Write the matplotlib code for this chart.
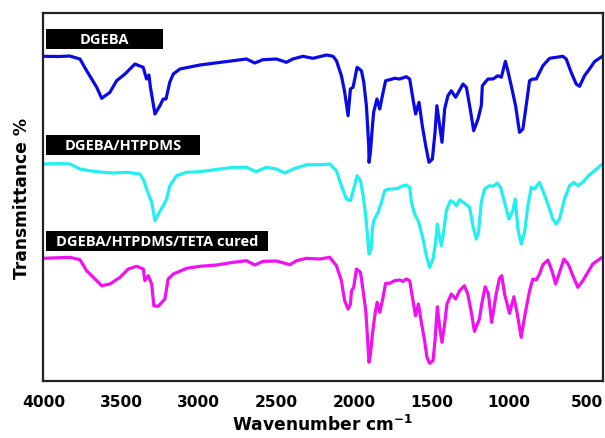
import numpy as np
import matplotlib.pyplot as plt
from matplotlib.patches import Rectangle


#------------------------------------------------------------------------
#!Datos (numero de onda cm-1, transmitancia relativa)

wn_dgeba = [4000, 3900, 3830, 3764, 3721, 3656, 3624, 3571, 3528, 3474, 3410, 3357,
            3335, 3320, 3310, 3281, 3249, 3228, 3210, 3185, 3163, 3120, 2992, 2778,
            2691, 2638, 2586, 2498, 2434, 2393, 2328, 2263, 2176, 2134, 2112, 2080,
            2059, 2037, 2022, 2005, 1979, 1951, 1936, 1919, 1904, 1902, 1893, 1880,
            1872, 1851, 1833, 1816, 1795, 1769, 1737, 1705, 1662, 1640, 1619, 1602,
            1580, 1559, 1537, 1516, 1494, 1477, 1465, 1447, 1432, 1415, 1394, 1372,
            1344, 1297, 1275, 1254, 1228, 1200, 1179, 1172, 1136, 1104, 1072, 1050,
            1024, 1008, 986, 958, 933, 911, 890, 868, 847, 825, 782, 739, 654, 632,
            600, 568, 546, 514, 482, 450, 400]
t_dgeba = [324.7, 324.5, 325.0, 322.0, 310.3, 293.7, 282.7, 288.7, 300.3, 307.0, 317.0, 313.7,
           302.0, 306.0, 293.7, 267.0, 275.3, 282.0, 282.0, 299.0, 307.0, 312.0, 316.0, 320.3,
           322.0, 318.0, 321.3, 322.0, 318.7, 322.0, 324.7, 322.7, 326.0, 324.7, 320.3, 305.3,
           289.0, 265.3, 292.0, 293.7, 313.7, 310.3, 299.0, 275.3, 235.3, 218.7, 229.0, 255.3,
           269.0, 282.0, 272.0, 285.3, 300.3, 301.3, 302.7, 302.0, 304.3, 302.0, 282.0, 267.0,
           278.7, 255.3, 235.3, 218.7, 222.0, 248.7, 275.3, 255.3, 238.7, 272.0, 285.3, 290.3,
           283.7, 297.0, 293.7, 275.3, 250.3, 262.0, 275.3, 295.3, 302.0, 302.0, 305.3, 303.7,
           319.7, 310.3, 295.3, 275.3, 248.7, 252.0, 275.3, 300.3, 302.0, 302.0, 315.3, 322.7,
           324.7, 322.0, 308.7, 297.0, 294.7, 305.3, 312.0, 319.3, 324.7]

wn_htpdms = [4000, 3900, 3828, 3764, 3700, 3656, 3551, 3463, 3378, 3352, 3335, 3302,
             3281, 3253, 3228, 3206, 3185, 3142, 3077, 2992, 2778, 2691, 2631, 2563,
             2498, 2445, 2391, 2305, 2219, 2155, 2112, 2080, 2048, 2022, 2001, 1979,
             1957, 1940, 1923, 1912, 1902, 1889, 1880, 1872, 1844, 1822, 1801, 1779,
             1747, 1715, 1694, 1662, 1640, 1629, 1608, 1586, 1576, 1554, 1533, 1512,
             1490, 1473, 1462, 1452, 1436, 1422, 1404, 1379, 1357, 1340, 1319, 1288,
             1254, 1233, 1211, 1197, 1179, 1158, 1126, 1104, 1076, 1055, 1029, 1001,
             976, 960, 943, 922, 900, 879, 857, 836, 804, 782, 750, 718, 697, 675,
             643, 611, 583, 557, 525, 488, 450, 407]
t_htpdms = [217.0, 217.5, 217.0, 212.0, 210.3, 209.3, 208.0, 208.7, 207.0, 200.3, 192.0, 179.0,
            160.3, 168.7, 175.3, 182.0, 195.3, 205.3, 208.7, 209.3, 213.7, 213.7, 209.3, 213.7,
            212.0, 208.0, 212.0, 216.3, 216.3, 217.0, 210.3, 195.3, 182.0, 180.3, 192.0, 205.3,
            200.3, 185.3, 165.3, 145.3, 127.0, 132.0, 152.0, 160.3, 168.7, 178.7, 190.3, 192.0,
            192.0, 192.7, 194.7, 196.0, 193.7, 178.7, 167.0, 160.3, 155.3, 142.0, 125.3, 113.7,
            122.0, 138.7, 157.0, 147.0, 135.3, 148.7, 170.3, 180.3, 178.7, 175.3, 181.3, 178.0,
            173.7, 155.3, 142.0, 148.7, 178.7, 192.0, 195.3, 194.7, 197.7, 193.7, 178.7, 162.0,
            170.3, 182.0, 152.0, 137.0, 148.7, 175.3, 193.7, 192.0, 198.7, 190.3, 177.0, 162.0,
            157.0, 162.0, 182.0, 195.3, 198.7, 195.3, 198.7, 205.3, 210.3, 216.0]

wn_teta = [4000, 3828, 3764, 3721, 3656, 3624, 3571, 3506, 3453, 3399, 3356, 3346,
           3324, 3302, 3288, 3260, 3217, 3196, 3163, 3077, 2992, 2884, 2777, 2691,
           2638, 2584, 2498, 2412, 2369, 2305, 2219, 2155, 2112, 2080, 2059, 2037,
           2022, 2015, 2001, 1983, 1957, 1940, 1923, 1912, 1902, 1893, 1880, 1865,
           1850, 1833, 1816, 1795, 1769, 1737, 1705, 1683, 1662, 1640, 1619, 1602,
           1584, 1565, 1544, 1529, 1512, 1490, 1477, 1462, 1447, 1432, 1415, 1400,
           1372, 1344, 1319, 1288, 1266, 1245, 1223, 1191, 1176, 1154, 1133, 1112,
           1083, 1062, 1047, 1029, 997, 969, 947, 922, 897, 868, 847, 825, 804,
           782, 750, 724, 700, 675, 647, 617, 589, 557, 525, 493, 461, 407]
t_teta = [122.7, 123.7, 121.3, 110.3, 100.3, 95.3, 97.0, 103.7, 112.0, 114.7, 112.0, 100.3,
          105.3, 97.0, 75.3, 74.7, 82.0, 102.0, 107.0, 112.7, 114.7, 116.0, 118.7, 120.3,
          116.0, 119.7, 120.0, 116.3, 120.3, 122.7, 122.0, 123.7, 115.3, 100.3, 80.3, 72.0,
          77.0, 90.3, 93.7, 112.0, 108.7, 90.3, 70.3, 43.7, 18.7, 27.0, 47.0, 65.3,
          78.7, 68.7, 80.3, 97.7, 97.7, 100.3, 101.0, 99.7, 102.0, 100.3, 80.3, 65.3,
          77.0, 58.7, 40.3, 23.7, 17.7, 20.3, 40.3, 74.3, 53.7, 38.7, 57.0, 77.0,
          87.0, 82.0, 90.3, 95.3, 87.0, 70.3, 49.7, 62.0, 77.0, 94.3, 87.0, 58.7,
          87.0, 102.7, 105.3, 87.0, 67.7, 84.3, 67.0, 43.7, 67.0, 90.3, 102.0, 101.0, 107.0,
          116.3, 121.0, 110.3, 97.0, 108.7, 122.0, 116.3, 105.3, 93.7, 100.3, 108.7, 117.0, 123.0]

nombres = ["DGEBA", "DGEBA/HTPDMS", "DGEBA/HTPDMS/TETA cured"]
colores = ["#0a0ae6", "#22f0f0", "#f010f0"]


#------------------------------------------------------------------------
#!Grafica

fig = plt.figure(figsize=(6.05, 4.39), dpi=100)
ax = fig.add_axes([0.0716, 0.1298, 0.9251, 0.8383])

ax.plot(wn_dgeba, t_dgeba, color=colores[0], lw=2.3)
ax.plot(wn_htpdms, t_htpdms, color=colores[1], lw=2.3)
ax.plot(wn_teta, t_teta, color=colores[2], lw=2.3)

ax.set_xlim(4000, 395)
ax.set_ylim(0, 368)
ax.set_xticks([4000, 3500, 3000, 2500, 2000, 1500, 1000, 500])
ax.set_yticks([])
ax.tick_params(axis="x", length=0, pad=9, labelsize=11.2)
for lab in ax.get_xticklabels():
    lab.set_fontweight("bold")
for s in ax.spines.values():
    s.set_linewidth(1.6)
    s.set_color("#222222")

ax.set_xlabel("Wavenumber cm$^{\\mathbf{-1}}$", fontsize=12.3, fontweight="bold", labelpad=4)
ax.set_ylabel("Transmittance %", fontsize=12.3, fontweight="bold", labelpad=9)

#Cajas negras con los nombres
cajas = [(0.0043, 0.902, 0.209), (0.0043, 0.615, 0.2755), (0.0043, 0.354, 0.3975)]
for (x0, y0, w), nombre in zip(cajas, nombres):
    ax.add_patch(Rectangle((x0, y0), w, 0.0543, transform=ax.transAxes,
                           facecolor="black", edgecolor="none", zorder=3))
    ax.text(x0 + w / 2, y0 + 0.0543 / 2, nombre, transform=ax.transAxes,
            color="white", fontweight="bold", fontsize=10.5, family="Open Sans",
            ha="center", va="center", zorder=4)

plt.savefig("out.png", dpi=100)
